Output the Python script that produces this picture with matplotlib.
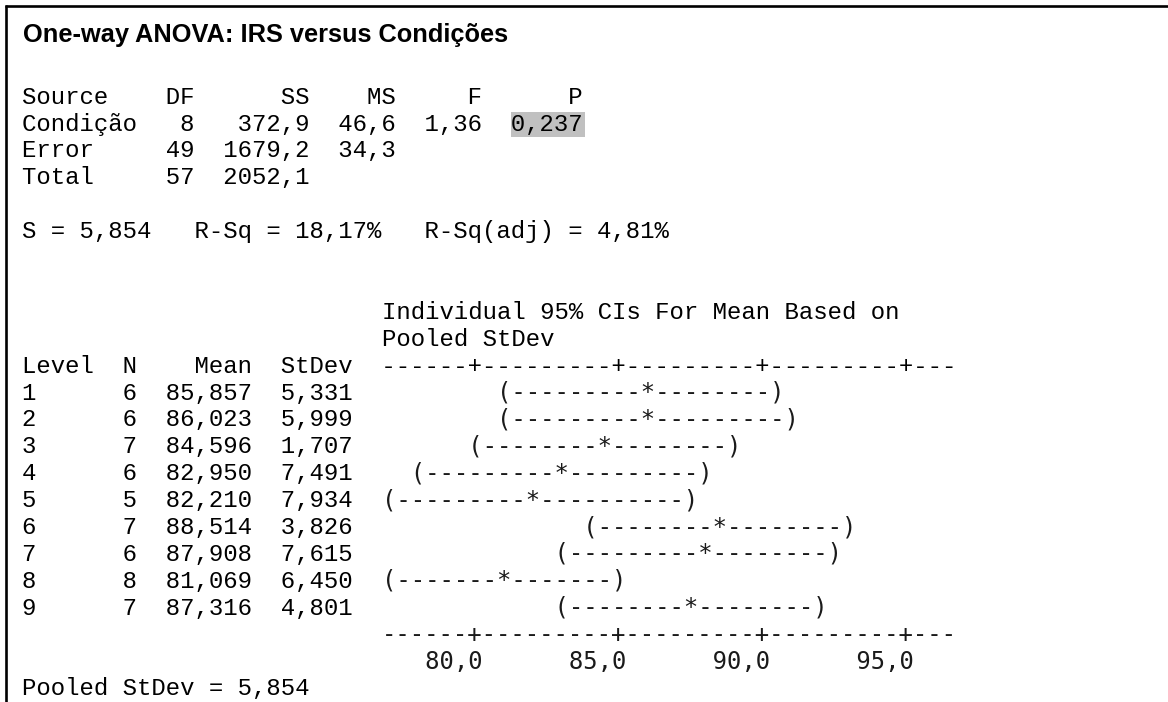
import matplotlib.pyplot as plt
from matplotlib.patches import Rectangle

# ANOVA table
sources = ["Condição", "Error", "Total"]
dof = [8, 49, 57]
ss = [372.9, 1679.2, 2052.1]
ms = [46.6, 34.3]
f_stat = 1.36
p_value = 0.237

s_value = 5.854
r_sq = 18.17
r_sq_adj = 4.81

# per-level summary
levels = [1, 2, 3, 4, 5, 6, 7, 8, 9]
n_obs = [6, 6, 7, 6, 5, 7, 6, 8, 7]
means = [85.857, 86.023, 84.596, 82.950, 82.210, 88.514, 87.908, 81.069, 87.316]
stdevs = [5.331, 5.999, 1.707, 7.491, 7.934, 3.826, 7.615, 6.450, 4.801]
pooled_sd = 5.854
t_crit = 2.0096  # t(0.975, 49)

axis_ticks = [80.0, 85.0, 90.0, 95.0]
axis_start = 77.0   # value of the first character of the text scale
axis_step = 0.5     # value per character
axis_width = 40


def fmt(v, d):
    return f"{v:.{d}f}".replace(".", ",")


W, H = 1168, 702
fig = plt.figure(figsize=(W / 100, H / 100), dpi=100)
ax = fig.add_axes([0, 0, 1, 1])
ax.set_xlim(0, W)
ax.set_ylim(H, 0)
ax.axis("off")

X0 = 22.0      # left edge of column 0
CW = 14.4      # character width
LH = 26.9      # line height
BASE0 = 130.5  # baseline of the first table row

mono = dict(family="Liberation Mono", fontsize=17.28, color="black")
graph = dict(family="DejaVu Sans Mono", fontsize=17.22, color="#1a1a1a")


def put(line, col, s, style=mono):
    ax.text(X0 + col * CW, BASE0 + line * LH, s, ha="left", va="baseline", **style)


# frame (top and left only)
ax.plot([6, 6], [5, H], color="black", lw=1.9, solid_capstyle="butt")
ax.plot([5, W], [6, 6], color="black", lw=1.9, solid_capstyle="butt")

ax.text(23, 42, "One-way ANOVA: IRS versus Condições", family="Liberation Sans",
        weight="bold", fontsize=18.3, ha="left", va="baseline")

# ANOVA table
put(-1, 0, f"{'Source':<8}{'DF':>4}{'SS':>8}{'MS':>6}{'F':>6}{'P':>7}")
ax.add_patch(Rectangle((X0 + 34 * CW - 1, BASE0 - 19), 5 * CW + 2, 25.5,
                       facecolor="#c0c0c0", edgecolor="none"))
put(0, 0, f"{sources[0]:<8}{dof[0]:>4}{fmt(ss[0], 1):>8}{fmt(ms[0], 1):>6}"
          f"{fmt(f_stat, 2):>6}{fmt(p_value, 3):>7}")
put(1, 0, f"{sources[1]:<8}{dof[1]:>4}{fmt(ss[1], 1):>8}{fmt(ms[1], 1):>6}")
put(2, 0, f"{sources[2]:<8}{dof[2]:>4}{fmt(ss[2], 1):>8}")

put(4, 0, f"S = {fmt(s_value, 3)}   R-Sq = {fmt(r_sq, 2)}%   "
          f"R-Sq(adj) = {fmt(r_sq_adj, 2)}%")

put(7, 25, "Individual 95% CIs For Mean Based on")
put(8, 25, "Pooled StDev")


def to_col(v):
    return int(round((v - axis_start) / axis_step))


axis_chars = ["-"] * axis_width
for t in axis_ticks:
    axis_chars[to_col(t)] = "+"
axis_line = "".join(axis_chars)

put(9, 0, f"{'Level':<5}{'N':>3}{'Mean':>8}{'StDev':>7}  " + axis_line)

for i, (lv, n, m, sd) in enumerate(zip(levels, n_obs, means, stdevs)):
    put(10 + i, 0, f"{lv:<5}{n:>3}{fmt(m, 3):>8}{fmt(sd, 3):>7}")
    half = t_crit * pooled_sd / n ** 0.5
    lo, mid, hi = to_col(m - half), to_col(m), to_col(m + half)
    row = [" "] * axis_width
    for c in range(lo, hi + 1):
        row[c] = "-"
    row[lo], row[mid], row[hi] = "(", "*", ")"
    put(10 + i, 25, "".join(row).rstrip(), graph)

put(19, 25, axis_line, graph)
label_chars = [" "] * axis_width
for t in axis_ticks:
    lab = fmt(t, 1)
    end = to_col(t)
    for k, ch in enumerate(lab):
        label_chars[end - len(lab) + 1 + k] = ch
put(20, 25, "".join(label_chars).rstrip(), graph)

put(21, 0, f"Pooled StDev = {fmt(pooled_sd, 3)}")

fig.savefig("out.png", dpi=100)
